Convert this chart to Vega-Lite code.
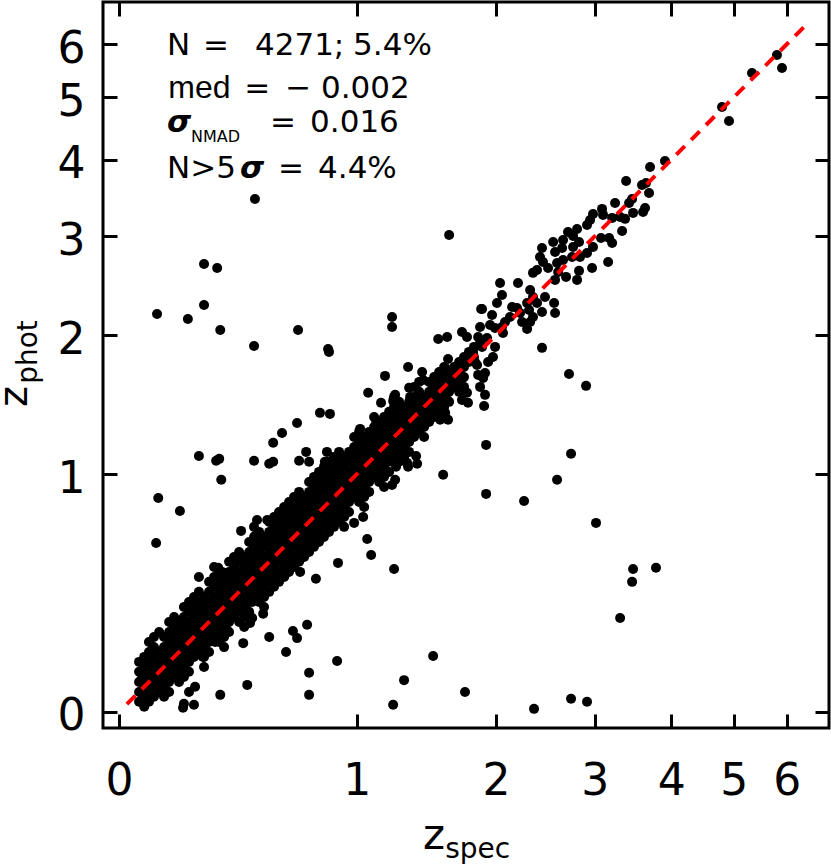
{
"$schema":"https://vega.github.io/schema/vega-lite/v6.json",
"width":726,"height":726,
"autosize":{"type":"none"},
"padding":{"left":103,"top":2,"right":2,"bottom":138},
"background":"white",
"config":{"view":{"stroke":"black","strokeWidth":3}},
"datasets":{
"pts":[
{"s":0.060,"p":0.030},{"s":0.060,"p":0.060},{"s":0.060,"p":0.091},{"s":0.060,"p":0.124},
{"s":0.076,"p":0.015},{"s":0.076,"p":0.045},{"s":0.076,"p":0.076},{"s":0.076,"p":0.107},{"s":0.076,"p":0.140},
{"s":0.091,"p":0.060},{"s":0.091,"p":0.091},{"s":0.091,"p":0.124},{"s":0.091,"p":0.157},{"s":0.091,"p":0.191},
{"s":0.107,"p":0.076},{"s":0.107,"p":0.107},{"s":0.107,"p":0.140},{"s":0.107,"p":0.174},{"s":0.107,"p":0.208},
{"s":0.124,"p":0.091},{"s":0.124,"p":0.124},{"s":0.124,"p":0.157},{"s":0.124,"p":0.191},
{"s":0.140,"p":0.076},{"s":0.140,"p":0.107},{"s":0.140,"p":0.140},{"s":0.140,"p":0.174},{"s":0.140,"p":0.208},
{"s":0.157,"p":0.091},{"s":0.157,"p":0.124},{"s":0.157,"p":0.157},{"s":0.157,"p":0.191},{"s":0.157,"p":0.226},{"s":0.157,"p":0.262},
{"s":0.174,"p":0.140},{"s":0.174,"p":0.174},{"s":0.174,"p":0.208},{"s":0.174,"p":0.244},{"s":0.174,"p":0.281},
{"s":0.191,"p":0.124},{"s":0.191,"p":0.157},{"s":0.191,"p":0.191},{"s":0.191,"p":0.226},{"s":0.191,"p":0.262},
{"s":0.208,"p":0.140},{"s":0.208,"p":0.174},{"s":0.208,"p":0.208},{"s":0.208,"p":0.244},{"s":0.208,"p":0.281},{"s":0.208,"p":0.319},
{"s":0.226,"p":0.157},{"s":0.226,"p":0.191},{"s":0.226,"p":0.226},{"s":0.226,"p":0.262},{"s":0.226,"p":0.300},{"s":0.226,"p":0.339},
{"s":0.244,"p":0.208},{"s":0.244,"p":0.244},{"s":0.244,"p":0.281},{"s":0.244,"p":0.319},{"s":0.244,"p":0.358},
{"s":0.262,"p":0.226},{"s":0.262,"p":0.262},{"s":0.262,"p":0.300},{"s":0.262,"p":0.339},{"s":0.262,"p":0.378},
{"s":0.281,"p":0.174},{"s":0.281,"p":0.208},{"s":0.281,"p":0.244},{"s":0.281,"p":0.281},{"s":0.281,"p":0.319},{"s":0.281,"p":0.358},
{"s":0.300,"p":0.226},{"s":0.300,"p":0.262},{"s":0.300,"p":0.300},{"s":0.300,"p":0.339},{"s":0.300,"p":0.378},
{"s":0.319,"p":0.281},{"s":0.319,"p":0.319},{"s":0.319,"p":0.358},{"s":0.319,"p":0.398},{"s":0.319,"p":0.440},{"s":0.319,"p":0.482},
{"s":0.339,"p":0.262},{"s":0.339,"p":0.300},{"s":0.339,"p":0.339},{"s":0.339,"p":0.378},{"s":0.339,"p":0.419},{"s":0.339,"p":0.461},
{"s":0.358,"p":0.244},{"s":0.358,"p":0.281},{"s":0.358,"p":0.319},{"s":0.358,"p":0.358},{"s":0.358,"p":0.398},{"s":0.358,"p":0.440},
{"s":0.378,"p":0.300},{"s":0.378,"p":0.339},{"s":0.378,"p":0.378},{"s":0.378,"p":0.419},{"s":0.378,"p":0.461},
{"s":0.398,"p":0.358},{"s":0.398,"p":0.398},{"s":0.398,"p":0.440},{"s":0.398,"p":0.482},{"s":0.398,"p":0.526},
{"s":0.419,"p":0.339},{"s":0.419,"p":0.378},{"s":0.419,"p":0.419},{"s":0.419,"p":0.461},{"s":0.419,"p":0.504},{"s":0.419,"p":0.549},
{"s":0.440,"p":0.319},{"s":0.440,"p":0.358},{"s":0.440,"p":0.398},{"s":0.440,"p":0.440},{"s":0.440,"p":0.482},{"s":0.440,"p":0.526},
{"s":0.461,"p":0.378},{"s":0.461,"p":0.419},{"s":0.461,"p":0.461},{"s":0.461,"p":0.504},{"s":0.461,"p":0.549},{"s":0.461,"p":0.594},{"s":0.461,"p":0.641},
{"s":0.482,"p":0.440},{"s":0.482,"p":0.482},{"s":0.482,"p":0.526},{"s":0.482,"p":0.571},{"s":0.482,"p":0.618},{"s":0.482,"p":0.665},
{"s":0.504,"p":0.419},{"s":0.504,"p":0.461},{"s":0.504,"p":0.504},{"s":0.504,"p":0.549},{"s":0.504,"p":0.594},{"s":0.504,"p":0.641},
{"s":0.526,"p":0.398},{"s":0.526,"p":0.440},{"s":0.526,"p":0.482},{"s":0.526,"p":0.526},{"s":0.526,"p":0.571},{"s":0.526,"p":0.618},
{"s":0.549,"p":0.461},{"s":0.549,"p":0.504},{"s":0.549,"p":0.549},{"s":0.549,"p":0.594},{"s":0.549,"p":0.641},
{"s":0.571,"p":0.482},{"s":0.571,"p":0.526},{"s":0.571,"p":0.571},{"s":0.571,"p":0.618},{"s":0.571,"p":0.665},{"s":0.571,"p":0.715},
{"s":0.594,"p":0.504},{"s":0.594,"p":0.549},{"s":0.594,"p":0.594},{"s":0.594,"p":0.641},{"s":0.594,"p":0.690},{"s":0.594,"p":0.740},
{"s":0.618,"p":0.526},{"s":0.618,"p":0.571},{"s":0.618,"p":0.618},{"s":0.618,"p":0.665},{"s":0.618,"p":0.715},{"s":0.618,"p":0.765},
{"s":0.641,"p":0.549},{"s":0.641,"p":0.594},{"s":0.641,"p":0.641},{"s":0.641,"p":0.690},{"s":0.641,"p":0.740},{"s":0.641,"p":0.791},
{"s":0.665,"p":0.571},{"s":0.665,"p":0.618},{"s":0.665,"p":0.665},{"s":0.665,"p":0.715},{"s":0.665,"p":0.765},{"s":0.665,"p":0.817},{"s":0.665,"p":0.871},
{"s":0.690,"p":0.594},{"s":0.690,"p":0.641},{"s":0.690,"p":0.690},{"s":0.690,"p":0.740},{"s":0.690,"p":0.791},{"s":0.690,"p":0.844},
{"s":0.715,"p":0.618},{"s":0.715,"p":0.665},{"s":0.715,"p":0.715},{"s":0.715,"p":0.765},{"s":0.715,"p":0.817},
{"s":0.740,"p":0.641},{"s":0.740,"p":0.690},{"s":0.740,"p":0.740},{"s":0.740,"p":0.791},{"s":0.740,"p":0.844},{"s":0.740,"p":0.899},
{"s":0.765,"p":0.665},{"s":0.765,"p":0.715},{"s":0.765,"p":0.765},{"s":0.765,"p":0.817},{"s":0.765,"p":0.871},{"s":0.765,"p":0.927},
{"s":0.791,"p":0.690},{"s":0.791,"p":0.740},{"s":0.791,"p":0.791},{"s":0.791,"p":0.844},{"s":0.791,"p":0.899},{"s":0.791,"p":0.955},
{"s":0.817,"p":0.715},{"s":0.817,"p":0.765},{"s":0.817,"p":0.817},{"s":0.817,"p":0.871},{"s":0.817,"p":0.927},{"s":0.817,"p":0.984},
{"s":0.844,"p":0.740},{"s":0.844,"p":0.791},{"s":0.844,"p":0.844},{"s":0.844,"p":0.899},{"s":0.844,"p":0.955},
{"s":0.871,"p":0.765},{"s":0.871,"p":0.817},{"s":0.871,"p":0.871},{"s":0.871,"p":0.927},{"s":0.871,"p":0.984},{"s":0.871,"p":1.043},
{"s":0.899,"p":0.791},{"s":0.899,"p":0.844},{"s":0.899,"p":0.899},{"s":0.899,"p":0.955},{"s":0.899,"p":1.013},{"s":0.899,"p":1.073},
{"s":0.927,"p":0.765},{"s":0.927,"p":0.817},{"s":0.927,"p":0.871},{"s":0.927,"p":0.927},{"s":0.927,"p":0.984},{"s":0.927,"p":1.043},
{"s":0.955,"p":0.844},{"s":0.955,"p":0.899},{"s":0.955,"p":0.955},{"s":0.955,"p":1.013},{"s":0.955,"p":1.073},
{"s":0.984,"p":0.927},{"s":0.984,"p":0.984},{"s":0.984,"p":1.043},{"s":0.984,"p":1.103},{"s":0.984,"p":1.165},
{"s":1.013,"p":0.899},{"s":1.013,"p":0.955},{"s":1.013,"p":1.013},{"s":1.013,"p":1.073},{"s":1.013,"p":1.134},{"s":1.013,"p":1.197},
{"s":1.043,"p":0.871},{"s":1.043,"p":0.927},{"s":1.043,"p":0.984},{"s":1.043,"p":1.043},{"s":1.043,"p":1.103},{"s":1.043,"p":1.165},
{"s":1.073,"p":0.955},{"s":1.073,"p":1.013},{"s":1.073,"p":1.073},{"s":1.073,"p":1.134},{"s":1.073,"p":1.197},
{"s":1.103,"p":1.043},{"s":1.103,"p":1.103},{"s":1.103,"p":1.165},{"s":1.103,"p":1.229},{"s":1.103,"p":1.295},
{"s":1.134,"p":1.013},{"s":1.134,"p":1.073},{"s":1.134,"p":1.134},{"s":1.134,"p":1.197},{"s":1.134,"p":1.262},
{"s":1.165,"p":0.984},{"s":1.165,"p":1.043},{"s":1.165,"p":1.103},{"s":1.165,"p":1.165},{"s":1.165,"p":1.229},{"s":1.165,"p":1.295},
{"s":1.197,"p":1.073},{"s":1.197,"p":1.134},{"s":1.197,"p":1.197},{"s":1.197,"p":1.262},{"s":1.197,"p":1.329},
{"s":1.229,"p":1.165},{"s":1.229,"p":1.229},{"s":1.229,"p":1.295},{"s":1.229,"p":1.363},{"s":1.229,"p":1.433},
{"s":1.262,"p":1.134},{"s":1.262,"p":1.197},{"s":1.262,"p":1.262},{"s":1.262,"p":1.329},{"s":1.262,"p":1.398},
{"s":1.295,"p":1.165},{"s":1.295,"p":1.229},{"s":1.295,"p":1.295},{"s":1.295,"p":1.363},
{"s":1.329,"p":1.197},{"s":1.329,"p":1.262},{"s":1.329,"p":1.329},{"s":1.329,"p":1.398},{"s":1.329,"p":1.469},
{"s":1.363,"p":1.295},{"s":1.363,"p":1.363},{"s":1.363,"p":1.433},{"s":1.363,"p":1.505},
{"s":1.398,"p":1.329},{"s":1.398,"p":1.398},{"s":1.398,"p":1.469},{"s":1.398,"p":1.542},
{"s":1.433,"p":1.295},{"s":1.433,"p":1.363},{"s":1.433,"p":1.433},{"s":1.433,"p":1.505},
{"s":1.469,"p":1.398},{"s":1.469,"p":1.469},{"s":1.469,"p":1.542},
{"s":1.505,"p":1.433},{"s":1.505,"p":1.505},{"s":1.505,"p":1.579},{"s":1.505,"p":1.655},
{"s":1.542,"p":1.469},{"s":1.542,"p":1.542},{"s":1.542,"p":1.617},
{"s":1.579,"p":1.505},{"s":1.579,"p":1.579},{"s":1.579,"p":1.655},
{"s":1.617,"p":1.542},{"s":1.617,"p":1.617},{"s":1.617,"p":1.694},
{"s":1.655,"p":1.655},{"s":1.655,"p":1.733},
{"s":1.694,"p":1.617},{"s":1.694,"p":1.694},{"s":1.694,"p":1.773},
{"s":1.733,"p":1.655},{"s":1.733,"p":1.733},
{"s":1.773,"p":1.773},{"s":1.773,"p":1.856},
{"s":1.814,"p":1.814},{"s":1.814,"p":1.898},
{"s":0.060,"p":0.157},{"s":0.091,"p":0.030},{"s":0.091,"p":0.226},{"s":0.124,"p":0.060},{"s":0.124,"p":0.262},
{"s":0.157,"p":0.060},{"s":0.157,"p":0.300},{"s":0.191,"p":0.091},{"s":0.191,"p":0.300},{"s":0.226,"p":0.124},{"s":0.226,"p":0.378},
{"s":0.262,"p":0.191},{"s":0.262,"p":0.419},{"s":0.300,"p":0.191},{"s":0.300,"p":0.419},{"s":0.300,"p":0.461},
{"s":0.339,"p":0.226},{"s":0.339,"p":0.504},{"s":0.378,"p":0.262},{"s":0.378,"p":0.504},{"s":0.378,"p":0.549},
{"s":0.419,"p":0.300},{"s":0.419,"p":0.594},{"s":0.461,"p":0.339},{"s":0.504,"p":0.378},{"s":0.504,"p":0.690},
{"s":0.549,"p":0.419},{"s":0.549,"p":0.690},{"s":0.549,"p":0.740},{"s":0.594,"p":0.461},{"s":0.594,"p":0.791},
{"s":0.641,"p":0.504},{"s":0.641,"p":0.844},{"s":0.690,"p":0.549},{"s":0.690,"p":0.899},{"s":0.740,"p":0.594},{"s":0.740,"p":0.955},
{"s":0.791,"p":0.641},{"s":0.791,"p":1.013},{"s":0.844,"p":0.690},{"s":0.844,"p":1.013},{"s":0.844,"p":1.073},
{"s":0.899,"p":0.740},{"s":0.899,"p":1.134},{"s":0.955,"p":0.791},{"s":0.955,"p":1.134},{"s":1.013,"p":0.844},{"s":1.013,"p":1.262},
{"s":1.073,"p":0.899},{"s":1.073,"p":1.262},{"s":1.134,"p":0.955},{"s":1.134,"p":1.329},{"s":1.197,"p":1.013},{"s":1.197,"p":1.398},
{"s":1.262,"p":1.073},{"s":1.262,"p":1.469},{"s":1.329,"p":1.134},{"s":1.398,"p":1.262},{"s":1.398,"p":1.617},
{"s":1.469,"p":1.329},{"s":1.469,"p":1.617},{"s":1.542,"p":1.398},{"s":1.542,"p":1.694},{"s":1.617,"p":1.469},{"s":1.694,"p":1.542},
{"s":0.076,"p":0.174},{"s":0.107,"p":0.045},{"s":0.107,"p":0.244},{"s":0.140,"p":0.045},{"s":0.140,"p":0.244},
{"s":0.174,"p":0.107},{"s":0.174,"p":0.319},{"s":0.208,"p":0.107},{"s":0.208,"p":0.358},{"s":0.244,"p":0.174},{"s":0.244,"p":0.398},
{"s":0.281,"p":0.140},{"s":0.281,"p":0.398},{"s":0.319,"p":0.244},{"s":0.319,"p":0.526},{"s":0.358,"p":0.208},{"s":0.358,"p":0.482},
{"s":0.398,"p":0.319},{"s":0.398,"p":0.571},{"s":0.440,"p":0.281},{"s":0.440,"p":0.571},{"s":0.482,"p":0.398},{"s":0.482,"p":0.715},
{"s":0.526,"p":0.358},{"s":0.526,"p":0.665},{"s":0.571,"p":0.440},{"s":0.571,"p":0.765},{"s":0.618,"p":0.482},{"s":0.618,"p":0.817},
{"s":0.665,"p":0.526},{"s":0.715,"p":0.571},{"s":0.715,"p":0.871},{"s":0.765,"p":0.618},{"s":0.765,"p":0.984},
{"s":0.817,"p":0.665},{"s":0.817,"p":1.043},{"s":0.871,"p":0.715},{"s":0.871,"p":1.103},{"s":0.927,"p":0.715},{"s":0.927,"p":1.103},
{"s":0.984,"p":0.871},{"s":0.984,"p":1.229},{"s":1.043,"p":0.817},{"s":1.043,"p":1.229},{"s":1.103,"p":0.984},{"s":1.103,"p":1.363},
{"s":1.165,"p":0.927},{"s":1.165,"p":1.363},{"s":1.229,"p":1.103},{"s":1.229,"p":1.505},{"s":1.295,"p":1.103},{"s":1.295,"p":1.433},
{"s":1.363,"p":1.229},{"s":1.363,"p":1.579},{"s":1.433,"p":1.229},{"s":1.505,"p":1.363},{"s":1.579,"p":1.433},{"s":1.579,"p":1.733},
{"s":1.655,"p":1.579},{"s":1.733,"p":1.579},{"s":1.733,"p":1.814},
{"s":0.486,"p":3.461},{"s":0.281,"p":2.691},{"s":0.331,"p":2.648},{"s":0.281,"p":2.275},{"s":0.117,"p":2.190},
{"s":0.222,"p":2.144},{"s":0.343,"p":2.045},{"s":0.685,"p":2.045},{"s":0.482,"p":1.906},{"s":0.839,"p":1.881},
{"s":0.844,"p":1.856},{"s":1.216,"p":2.162},{"s":1.216,"p":2.071},{"s":1.171,"p":1.663},{"s":1.067,"p":1.535},
{"s":1.236,"p":1.520},{"s":1.146,"p":1.462},{"s":1.223,"p":1.476},{"s":0.796,"p":1.391},{"s":0.849,"p":1.384},
{"s":0.680,"p":1.322},{"s":0.608,"p":1.255},{"s":0.567,"p":1.191},{"s":1.019,"p":1.282},{"s":1.115,"p":1.336},
{"s":1.210,"p":1.349},{"s":0.262,"p":1.109},{"s":0.327,"p":1.079},{"s":0.339,"p":1.091},{"s":0.482,"p":1.079},
{"s":0.549,"p":1.061},{"s":0.567,"p":1.073},{"s":0.690,"p":1.079},{"s":0.740,"p":1.073},{"s":0.725,"p":1.134},
{"s":0.833,"p":1.134},{"s":0.822,"p":1.073},{"s":0.833,"p":1.025},{"s":0.893,"p":1.031},{"s":0.347,"p":0.967},
{"s":0.121,"p":0.866},{"s":0.194,"p":0.796},{"s":0.114,"p":0.636},{"s":0.262,"p":0.482},{"s":0.893,"p":0.544},
{"s":1.229,"p":0.517},{"s":1.061,"p":0.655},{"s":1.085,"p":0.580},{"s":0.775,"p":0.474},{"s":0.984,"p":0.735},
{"s":1.037,"p":0.765},{"s":0.522,"p":0.331},{"s":0.474,"p":0.315},{"s":0.465,"p":0.296},{"s":0.730,"p":0.289},
{"s":0.660,"p":0.266},{"s":0.680,"p":0.240},{"s":0.549,"p":0.244},{"s":0.436,"p":0.222},{"s":0.323,"p":0.226},
{"s":0.277,"p":0.174},{"s":0.627,"p":0.191},{"s":0.888,"p":0.160},{"s":0.740,"p":0.121},{"s":0.453,"p":0.082},
{"s":0.740,"p":0.051},{"s":0.343,"p":0.051},{"s":0.248,"p":0.076},{"s":0.226,"p":0.060},{"s":0.244,"p":0.021},
{"s":0.208,"p":0.024},{"s":0.205,"p":0.012},{"s":1.223,"p":0.021},{"s":1.915,"p":1.178},{"s":2.734,"p":1.122},
{"s":1.572,"p":0.996},{"s":2.585,"p":0.967},{"s":1.915,"p":0.888},{"s":2.256,"p":0.849},{"s":3.016,"p":0.735},
{"s":3.474,"p":0.517},{"s":3.783,"p":0.522},{"s":3.461,"p":0.461},{"s":3.308,"p":0.315},{"s":1.498,"p":0.177},
{"s":1.295,"p":0.097},{"s":1.741,"p":0.060},{"s":2.352,"p":0.009},{"s":2.734,"p":0.039},{"s":2.912,"p":0.030},
{"s":1.377,"p":1.109},{"s":1.322,"p":1.043},{"s":1.242,"p":1.043},{"s":1.236,"p":0.967},{"s":1.216,"p":0.938},
{"s":1.617,"p":3.016},{"s":5.805,"p":5.786},{"s":5.906,"p":5.534},{"s":5.328,"p":5.439},{"s":4.798,"p":4.832},
{"s":4.918,"p":4.599},{"s":3.910,"p":3.983},{"s":3.701,"p":3.896},{"s":3.384,"p":3.701},{"s":3.592,"p":3.646},
{"s":3.646,"p":3.673},{"s":3.687,"p":3.539},{"s":3.461,"p":3.461},{"s":3.422,"p":3.409},{"s":3.245,"p":3.409},
{"s":3.087,"p":3.333},{"s":3.099,"p":3.258},{"s":3.633,"p":3.345},{"s":3.606,"p":3.295},{"s":3.474,"p":3.283},
{"s":3.371,"p":3.209},{"s":3.308,"p":3.233},{"s":3.209,"p":3.221},{"s":2.981,"p":3.270},{"s":2.947,"p":3.196},
{"s":2.912,"p":3.135},{"s":3.333,"p":3.063},{"s":2.800,"p":3.087},{"s":2.701,"p":3.051},{"s":2.756,"p":3.005},
{"s":3.075,"p":2.981},{"s":3.172,"p":2.981},{"s":3.209,"p":2.924},{"s":3.160,"p":2.712},{"s":2.970,"p":2.648},
{"s":2.981,"p":2.878},{"s":2.912,"p":2.811},{"s":2.822,"p":2.935},{"s":2.756,"p":2.878},{"s":2.745,"p":2.767},
{"s":2.833,"p":2.767},{"s":2.648,"p":2.958},{"s":2.544,"p":2.935},{"s":2.564,"p":2.822},{"s":2.638,"p":2.867},
{"s":2.431,"p":2.867},{"s":2.411,"p":2.767},{"s":2.441,"p":2.712},{"s":2.585,"p":2.701},{"s":2.648,"p":2.734},
{"s":2.596,"p":2.606},{"s":2.822,"p":2.617},{"s":2.800,"p":2.523},{"s":2.680,"p":2.554},{"s":2.564,"p":2.523},
{"s":2.492,"p":2.648},{"s":2.381,"p":2.627},{"s":2.342,"p":2.596},{"s":2.199,"p":2.492},{"s":2.036,"p":2.492},
{"s":2.053,"p":2.372},{"s":2.314,"p":2.421},{"s":2.342,"p":2.352},{"s":2.461,"p":2.352},{"s":2.554,"p":2.294},
{"s":2.564,"p":2.199},{"s":2.381,"p":2.294},{"s":2.285,"p":2.294},{"s":2.304,"p":2.227},{"s":2.431,"p":2.208},
{"s":2.342,"p":2.162},{"s":2.218,"p":2.199},{"s":2.190,"p":2.246},{"s":2.237,"p":2.116},{"s":2.314,"p":2.116},
{"s":2.285,"p":2.053},{"s":2.144,"p":2.256},{"s":2.125,"p":2.162},{"s":2.080,"p":2.116},{"s":2.053,"p":2.071},
{"s":2.062,"p":2.018},{"s":2.009,"p":2.294},{"s":1.966,"p":2.180},{"s":1.949,"p":2.089},{"s":1.992,"p":2.062},
{"s":1.873,"p":2.237},{"s":1.864,"p":2.071},{"s":1.848,"p":1.983},{"s":1.923,"p":1.974},{"s":1.864,"p":1.932},
{"s":1.717,"p":2.027},{"s":1.757,"p":1.983},{"s":1.602,"p":1.983},{"s":1.535,"p":1.966},{"s":2.431,"p":1.890},
{"s":1.992,"p":1.898},{"s":1.974,"p":1.814},{"s":1.932,"p":1.773},{"s":1.806,"p":1.856},{"s":1.822,"p":1.773},
{"s":2.712,"p":1.678},{"s":2.901,"p":1.587},{"s":1.839,"p":1.749},{"s":1.906,"p":1.686},{"s":1.848,"p":1.671},
{"s":1.890,"p":1.647},{"s":1.725,"p":1.647},{"s":1.702,"p":1.579},{"s":1.757,"p":1.535},{"s":1.717,"p":1.483},
{"s":1.765,"p":1.462},{"s":1.864,"p":1.579},{"s":1.906,"p":1.520},{"s":1.898,"p":1.440},{"s":1.322,"p":1.733},
{"s":1.419,"p":1.694},{"s":1.426,"p":1.632},{"s":1.498,"p":1.572},{"s":1.476,"p":1.505},{"s":1.549,"p":1.535},
{"s":1.602,"p":1.483},{"s":1.587,"p":1.391},{"s":1.549,"p":1.343},{"s":1.609,"p":1.343},{"s":1.329,"p":1.572},
{"s":1.336,"p":1.505},{"s":1.405,"p":1.498},{"s":1.269,"p":1.398},{"s":1.336,"p":1.433},{"s":1.405,"p":1.412},
{"s":1.476,"p":1.391},{"s":1.122,"p":1.329},{"s":1.191,"p":1.288},{"s":1.204,"p":1.229},{"s":1.384,"p":1.061},
{"s":1.315,"p":1.067},{"s":0.495,"p":0.750},{"s":0.540,"p":0.750},{"s":1.609,"p":1.798},{"s":1.587,"p":1.725},
{"s":1.549,"p":1.640},{"s":1.647,"p":1.655},{"s":1.678,"p":1.609},{"s":1.881,"p":1.898},{"s":1.881,"p":2.237},
{"s":1.440,"p":1.498},{"s":0.335,"p":0.522},{"s":0.350,"p":0.504},{"s":0.427,"p":0.695},{"s":0.486,"p":0.670},
{"s":0.522,"p":0.665},{"s":0.423,"p":0.580},{"s":0.415,"p":0.567},{"s":0.436,"p":0.374},{"s":0.474,"p":0.378},
{"s":0.370,"p":0.270},{"s":0.362,"p":0.258},{"s":0.608,"p":0.500},{"s":0.695,"p":0.504},{"s":0.085,"p":0.030},
{"s":0.070,"p":0.036},{"s":0.066,"p":0.097}
],
"one2one":[{"s":0.023,"p":0.023},{"s":6.41,"p":6.41}]
},
"layer":[
{"data":{"name":"pts"},
 "mark":{"type":"circle","size":100,"color":"black","opacity":1},
 "encoding":{
  "x":{"field":"s","type":"quantitative","scale":{"type":"symlog","constant":1,"domain":[-0.048,6.92],"nice":false,"zero":false},
   "axis":{"orient":"bottom","values":[0,1,2,3,4,5,6],"format":"d","title":null,"domain":false,"grid":false,"tickSize":-14,"tickWidth":3,"tickColor":"black","labelFont":"DejaVu Sans","labelFontSize":44,"labelColor":"black","labelPadding":45,"labelFlush":false,"labelOverlap":false,"labelBound":false}},
  "y":{"field":"p","type":"quantitative","scale":{"type":"symlog","constant":1,"domain":[-0.048,6.92],"nice":false,"zero":false},
   "axis":{"orient":"left","values":[0,1,2,3,4,5,6],"format":"d","title":null,"domain":false,"grid":false,"tickSize":-14,"tickWidth":3,"tickColor":"black","labelFont":"DejaVu Sans","labelFontSize":44,"labelColor":"black","labelPadding":32,"labelOffset":5,"labelFlush":false,"labelOverlap":false,"labelBound":false}}}},
{"data":{"name":"one2one"},
 "mark":{"type":"line","color":"#ff0000","strokeWidth":4,"strokeDash":[12,9]},
 "encoding":{
  "x":{"field":"s","type":"quantitative","scale":{"type":"symlog","constant":1,"domain":[-0.048,6.92],"nice":false,"zero":false},"axis":null},
  "y":{"field":"p","type":"quantitative","scale":{"type":"symlog","constant":1,"domain":[-0.048,6.92],"nice":false,"zero":false},"axis":null}}},
{"data":{"values":[
 {"x":0.150,"y":5.785,"t":"N"},{"x":0.277,"y":5.785,"t":"="},{"x":0.486,"y":5.785,"t":"4271;"},{"x":0.978,"y":5.785,"t":"5.4%"},
 {"x":0.440,"y":4.987,"t":"="},{"x":0.623,"y":4.987,"t":"\u2212"},{"x":0.801,"y":4.987,"t":"0.002"},
 {"x":0.553,"y":4.422,"t":"="},{"x":0.745,"y":4.422,"t":"0.016"},
 {"x":0.150,"y":3.741,"t":"N>5"},{"x":0.589,"y":3.741,"t":"="},{"x":0.786,"y":3.741,"t":"4.4%"}]},
 "mark":{"type":"text","font":"DejaVu Sans","fontSize":31,"align":"left","baseline":"alphabetic","color":"black"},
 "encoding":{
  "x":{"field":"x","type":"quantitative","scale":{"type":"symlog","constant":1,"domain":[-0.048,6.92],"nice":false,"zero":false},"axis":null},
  "y":{"field":"y","type":"quantitative","scale":{"type":"symlog","constant":1,"domain":[-0.048,6.92],"nice":false,"zero":false},"axis":null},
  "text":{"field":"t"}}},
{"data":{"values":[{"x":0.154,"y":4.987,"t":"med"}]},
 "mark":{"type":"text","font":"Liberation Sans","fontSize":32,"align":"left","baseline":"alphabetic","color":"black"},
 "encoding":{
  "x":{"field":"x","type":"quantitative","scale":{"type":"symlog","constant":1,"domain":[-0.048,6.92],"nice":false,"zero":false},"axis":null},
  "y":{"field":"y","type":"quantitative","scale":{"type":"symlog","constant":1,"domain":[-0.048,6.92],"nice":false,"zero":false},"axis":null},
  "text":{"field":"t"}}},
{"data":{"values":[{"x":0.150,"y":4.422,"t":"\u03c3"},{"x":0.423,"y":3.741,"t":"\u03c3"}]},
 "mark":{"type":"text","font":"DejaVu Sans","fontSize":31,"fontWeight":"bold","fontStyle":"italic","align":"left","baseline":"alphabetic","color":"black"},
 "encoding":{
  "x":{"field":"x","type":"quantitative","scale":{"type":"symlog","constant":1,"domain":[-0.048,6.92],"nice":false,"zero":false},"axis":null},
  "y":{"field":"y","type":"quantitative","scale":{"type":"symlog","constant":1,"domain":[-0.048,6.92],"nice":false,"zero":false},"axis":null},
  "text":{"field":"t"}}},
{"data":{"values":[{"x":0.233,"y":4.266,"t":"NMAD"}]},
 "mark":{"type":"text","font":"DejaVu Sans","fontSize":16,"align":"left","baseline":"alphabetic","color":"black"},
 "encoding":{
  "x":{"field":"x","type":"quantitative","scale":{"type":"symlog","constant":1,"domain":[-0.048,6.92],"nice":false,"zero":false},"axis":null},
  "y":{"field":"y","type":"quantitative","scale":{"type":"symlog","constant":1,"domain":[-0.048,6.92],"nice":false,"zero":false},"axis":null},
  "text":{"field":"t"}}},
{"data":{"values":[{"x":1.426,"y":-0.491,"t":"z"}]},
 "mark":{"type":"text","font":"DejaVu Sans","fontSize":42,"align":"left","baseline":"alphabetic","color":"black"},
 "encoding":{
  "x":{"field":"x","type":"quantitative","scale":{"type":"symlog","constant":1,"domain":[-0.048,6.92],"nice":false,"zero":false},"axis":null},
  "y":{"field":"y","type":"quantitative","scale":{"type":"symlog","constant":1,"domain":[-0.048,6.92],"nice":false,"zero":false},"axis":null},
  "text":{"field":"t"}}},
{"data":{"values":[{"x":1.587,"y":-0.531,"t":"spec"}]},
 "mark":{"type":"text","font":"DejaVu Sans","fontSize":28,"align":"left","baseline":"alphabetic","color":"black"},
 "encoding":{
  "x":{"field":"x","type":"quantitative","scale":{"type":"symlog","constant":1,"domain":[-0.048,6.92],"nice":false,"zero":false},"axis":null},
  "y":{"field":"y","type":"quantitative","scale":{"type":"symlog","constant":1,"domain":[-0.048,6.92],"nice":false,"zero":false},"axis":null},
  "text":{"field":"t"}}},
{"data":{"values":[{"x":-0.307,"y":1.433,"t":"z"}]},
 "mark":{"type":"text","font":"DejaVu Sans","fontSize":40,"angle":270,"align":"left","baseline":"alphabetic","color":"black"},
 "encoding":{
  "x":{"field":"x","type":"quantitative","scale":{"type":"symlog","constant":1,"domain":[-0.048,6.92],"nice":false,"zero":false},"axis":null},
  "y":{"field":"y","type":"quantitative","scale":{"type":"symlog","constant":1,"domain":[-0.048,6.92],"nice":false,"zero":false},"axis":null},
  "text":{"field":"t"}}},
{"data":{"values":[{"x":-0.270,"y":1.602,"t":"phot"}]},
 "mark":{"type":"text","font":"DejaVu Sans","fontSize":28,"angle":270,"align":"left","baseline":"alphabetic","color":"black"},
 "encoding":{
  "x":{"field":"x","type":"quantitative","scale":{"type":"symlog","constant":1,"domain":[-0.048,6.92],"nice":false,"zero":false},"axis":null},
  "y":{"field":"y","type":"quantitative","scale":{"type":"symlog","constant":1,"domain":[-0.048,6.92],"nice":false,"zero":false},"axis":null},
  "text":{"field":"t"}}},
{"data":{"name":"one2one"},
 "mark":{"type":"point","opacity":0},
 "encoding":{
  "x":{"field":"s","type":"quantitative","scale":{"type":"symlog","constant":1,"domain":[-0.048,6.92],"nice":false,"zero":false},
   "axis":{"orient":"top","values":[0,1,2,3,4,5,6],"labels":false,"title":null,"domain":false,"grid":false,"tickSize":-14,"tickWidth":3,"tickColor":"black"}},
  "y":{"field":"p","type":"quantitative","scale":{"type":"symlog","constant":1,"domain":[-0.048,6.92],"nice":false,"zero":false},
   "axis":{"orient":"right","values":[0,1,2,3,4,5,6],"labels":false,"title":null,"domain":false,"grid":false,"tickSize":-14,"tickWidth":3,"tickColor":"black"}}}}
],
"resolve":{"scale":{"x":"independent","y":"independent"}}
}
